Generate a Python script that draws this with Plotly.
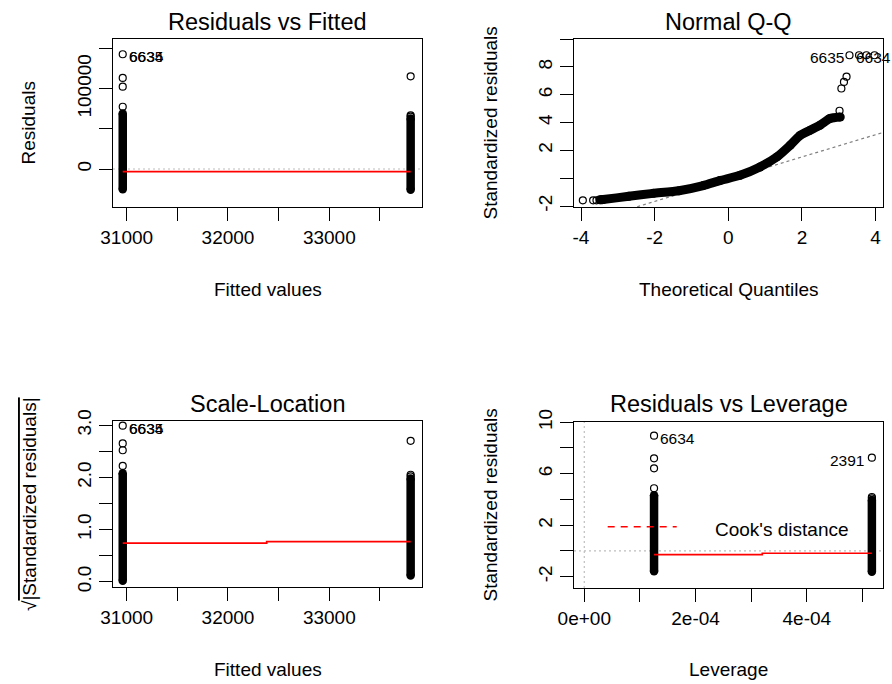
import plotly.graph_objects as go

W, H = 892, 684
FONT = "Liberation Sans, Arial, sans-serif"

# ---------------- data ----------------
# Panel 1: Residuals vs Fitted
rf_groups = [30961, 33803]
rf_col_min = [-25100, -25900]
rf_col_max = [69100, 62900]
rf_out_x = [30961, 30961, 30961, 30961, 33803, 33803, 33803]
rf_out_y = [142800, 113300, 102500, 77500, 115400, 66800, 65200]
rf_smooth_x = [30961, 33803]
rf_smooth_y = [-3300, -3300]
rf_ids = ["6634", "6635"]
rf_id_x = 30961
rf_id_y = 142800

# Panel 2: Normal Q-Q
qq_band_x = [-3.49, -3.40, -2.70, -2.04, -1.34, -0.68, -0.23, 0.32, 0.86, 1.32,
             1.68, 1.95, 2.22, 2.49, 2.76, 3.04]
qq_band_y = [-1.55, -1.53, -1.30, -1.09, -0.90, -0.53, -0.17, 0.21, 0.81, 1.53,
             2.37, 3.08, 3.45, 3.81, 4.29, 4.40]
qq_out_x = [-3.95, -3.67, -3.58, 3.02, 3.07, 3.14, 3.21, 3.29, 3.55, 3.75, 3.97]
qq_out_y = [-1.59, -1.59, -1.59, 4.85, 6.45, 6.92, 7.30, 8.84, 8.84, 8.84, 8.84]
qq_line_x = [-4.19, 4.20]
qq_line_intercept = -0.07
qq_line_slope = 0.80

# Panel 3: Scale-Location
sl_groups = [30961, 33803]
sl_col_min = [0.02, 0.12]
sl_col_max = [2.08, 1.98]
sl_out_x = [30961, 30961, 30961, 30961, 33803, 33803, 33803]
sl_out_y = [2.99, 2.65, 2.52, 2.22, 2.70, 2.05, 2.02]
sl_smooth_x = [30961, 32382, 32382, 33803]
sl_smooth_y = [0.74, 0.74, 0.77, 0.77]

# Panel 4: Residuals vs Leverage
lev_groups = [1.254e-4, 5.17e-4]
lev_col_min = [-1.57, -1.62]
lev_col_max = [4.33, 3.95]
lev_out_x = [1.254e-4, 1.254e-4, 1.254e-4, 1.254e-4, 5.17e-4, 5.17e-4, 5.17e-4]
lev_out_y = [8.96, 7.20, 6.42, 4.87, 7.25, 4.19, 4.09]
lev_smooth_x = [1.254e-4, 3.2e-4, 3.2e-4, 5.17e-4]
lev_smooth_y = [-0.29, -0.29, -0.18, -0.18]

# axes ticks
p1_xticks = [31000, 31500, 32000, 32500, 33000, 33500]
p1_xtext = ["31000", "", "32000", "", "33000", ""]
p1_yticks = [0, 50000, 100000, 150000]
p1_ytext = ["0", "", "100000", ""]
p2_xticks = [-4, -2, 0, 2, 4]
p2_xtext = ["-4", "-2", "0", "2", "4"]
p2_yticks = [-2, 0, 2, 4, 6, 8, 10]
p2_ytext = ["-2", "", "2", "4", "6", "8", ""]
p3_yticks = [0, 0.5, 1, 1.5, 2, 2.5, 3]
p3_ytext = ["0.0", "", "1.0", "", "2.0", "", "3.0"]
p4_xticks = [0, 1e-4, 2e-4, 3e-4, 4e-4, 5e-4]
p4_xtext = ["0e+00", "", "2e-04", "", "4e-04", ""]
p4_yticks = [-2, 0, 2, 4, 6, 8, 10]
p4_ytext = ["-2", "", "2", "", "6", "", "10"]

# ---------------- figure ----------------
fig = go.Figure()


def px(x):
    return x / W


def py(y):
    return 1 - y / H


def add_columns(groups, mins, maxs, xa, ya):
    for g, lo, hi in zip(groups, mins, maxs):
        fig.add_trace(go.Scatter(
            x=[g, g], y=[lo, hi], mode="lines+markers",
            line=dict(color="black", width=8.5),
            marker=dict(symbol="circle", size=8.5, color="black"),
            xaxis=xa, yaxis=ya, showlegend=False, hoverinfo="skip"))


def add_points(xs, ys, xa, ya):
    fig.add_trace(go.Scatter(
        x=xs, y=ys, mode="markers",
        marker=dict(symbol="circle-open", size=7, color="black",
                    line=dict(width=1.2, color="black")),
        xaxis=xa, yaxis=ya, showlegend=False, hoverinfo="skip"))


def add_smooth(xs, ys, xa, ya):
    fig.add_trace(go.Scatter(
        x=xs, y=ys, mode="lines", line=dict(color="red", width=1.7),
        xaxis=xa, yaxis=ya, showlegend=False, hoverinfo="skip"))


# reference lines (drawn first, beneath)
fig.add_shape(type="line", xref="x domain", yref="y", x0=0, x1=1, y0=0, y1=0,
              line=dict(color="#BEBEBE", width=1.2, dash="2px,3px"), layer="below")
fig.add_shape(type="line", xref="x4 domain", yref="y4", x0=0, x1=1, y0=0, y1=0,
              line=dict(color="#BEBEBE", width=1.2, dash="2px,3px"), layer="below")
fig.add_shape(type="line", xref="x4", yref="y4 domain", x0=0, x1=0, y0=0, y1=1,
              line=dict(color="#BEBEBE", width=1.2, dash="2px,3px"), layer="below")

# Panel 1
add_columns(rf_groups, rf_col_min, rf_col_max, "x", "y")
add_points(rf_out_x, rf_out_y, "x", "y")
add_smooth(rf_smooth_x, rf_smooth_y, "x", "y")

# Panel 2
qq_line_y = [qq_line_intercept + qq_line_slope * v for v in qq_line_x]
fig.add_trace(go.Scatter(x=qq_line_x, y=qq_line_y, mode="lines",
                         line=dict(color="#7F7F7F", width=1.2, dash="3px,3px"),
                         xaxis="x2", yaxis="y2", showlegend=False, hoverinfo="skip"))
fig.add_trace(go.Scatter(x=qq_band_x, y=qq_band_y, mode="lines+markers",
                         line=dict(color="black", width=9, shape="spline", smoothing=0.6),
                         marker=dict(symbol="circle", size=9, color="black"),
                         xaxis="x2", yaxis="y2", showlegend=False, hoverinfo="skip"))
add_points(qq_out_x, qq_out_y, "x2", "y2")

# Panel 3
add_columns(sl_groups, sl_col_min, sl_col_max, "x3", "y3")
add_points(sl_out_x, sl_out_y, "x3", "y3")
add_smooth(sl_smooth_x, sl_smooth_y, "x3", "y3")

# Panel 4
add_columns(lev_groups, lev_col_min, lev_col_max, "x4", "y4")
add_points(lev_out_x, lev_out_y, "x4", "y4")
add_smooth(lev_smooth_x, lev_smooth_y, "x4", "y4")

axis_common = dict(showgrid=False, zeroline=False, showline=True, mirror=True,
                   linecolor="black", linewidth=1, ticks="outside", ticklen=13,
                   tickwidth=1, tickcolor="black", automargin=False,
                   tickfont=dict(family=FONT, size=19, color="black"))

dom_x_left = [113 / W, 422 / W]
dom_x_right = [574 / W, 883 / W]

fig.update_layout(
    template="none",
    width=W, height=H, autosize=False,
    margin=dict(l=0, r=0, t=0, b=0, pad=0),
    paper_bgcolor="white", plot_bgcolor="white",
    showlegend=False,
    xaxis=dict(axis_common, domain=dom_x_left, range=[30865, 33915], anchor="y",
               tickvals=p1_xticks, ticktext=p1_xtext),
    yaxis=dict(axis_common, domain=[py(207), py(39)], range=[-47300, 161800], anchor="x",
               tickvals=p1_yticks, ticktext=p1_ytext, tickangle=-90),
    xaxis2=dict(axis_common, domain=dom_x_right, range=[-4.19, 4.20], anchor="y2",
                tickvals=p2_xticks, ticktext=p2_xtext),
    yaxis2=dict(axis_common, domain=[py(207), py(39)], range=[-2.07, 10.01], anchor="x2",
                tickvals=p2_yticks, ticktext=p2_ytext, tickangle=-90),
    xaxis3=dict(axis_common, domain=dom_x_left, range=[30865, 33915], anchor="y3",
                tickvals=p1_xticks, ticktext=p1_xtext),
    yaxis3=dict(axis_common, domain=[py(587), py(421)], range=[-0.10, 3.08], anchor="x3",
                tickvals=p3_yticks, ticktext=p3_ytext, tickangle=-90),
    xaxis4=dict(axis_common, domain=dom_x_right, range=[-0.185e-4, 5.37e-4], anchor="y4",
                tickvals=p4_xticks, ticktext=p4_xtext),
    yaxis4=dict(axis_common, domain=[py(588), py(422)], range=[-2.88, 10.02], anchor="x4",
                tickvals=p4_yticks, ticktext=p4_ytext, tickangle=-90),
)

ann = []


def text(x, y, s, size=19, angle=0, xanchor="center"):
    ann.append(dict(x=px(x), y=py(y), xref="paper", yref="paper", text=s,
                    showarrow=False, textangle=angle, xanchor=xanchor, yanchor="middle",
                    font=dict(family=FONT, size=size, color="black")))


# titles
text(267.5, 21.5, "Residuals vs Fitted", 23.5)
text(728.5, 21.5, "Normal Q-Q", 23.5)
text(267.5, 403.5, "Scale-Location", 23.5)
text(728.5, 403.5, "Residuals vs Leverage", 23.5)
# axis titles
text(267.5, 289, "Fitted values")
text(728.5, 289, "Theoretical Quantiles")
text(267.5, 669, "Fitted values")
text(728.5, 669, "Leverage")
text(27.5, 123, "Residuals", angle=-90)
text(489.5, 123, "Standardized residuals", angle=-90)
text(29, 504, "√<span style='text-decoration:overline'>|Standardized residuals|</span>", angle=-90)
text(489.5, 505, "Standardized residuals", angle=-90)
# Cook's distance legend
text(712.7, 529.8, "Cook's distance", xanchor="left")
fig.add_shape(type="line", xref="paper", yref="paper", x0=px(607.7), x1=px(676.7),
              y0=py(526.7), y1=py(526.7), line=dict(color="red", width=1.5, dash="7px,6px"))


def idlabel(x, y, s, xa, ya, xanchor, xshift, yshift=-2.5):
    ann.append(dict(x=x, y=y, xref=xa, yref=ya, text=s, showarrow=False,
                    xanchor=xanchor, yanchor="middle", xshift=xshift, yshift=yshift,
                    font=dict(family=FONT, size=15.5, color="black")))


for s in rf_ids:
    idlabel(rf_id_x, rf_id_y, s, "x", "y", "left", 4)
    idlabel(sl_groups[0], sl_out_y[0], s, "x3", "y3", "left", 4)
idlabel(qq_out_x[7], qq_out_y[7], "6635", "x2", "y2", "right", -3)
idlabel(3.40, qq_out_y[7], "6634", "x2", "y2", "left", 0)
idlabel(lev_groups[0], lev_out_y[0], "6634", "x4", "y4", "left", 4)
idlabel(lev_groups[1], lev_out_y[4], "2391", "x4", "y4", "right", -6)

fig.update_layout(annotations=ann)
fig.write_html("out.html")
